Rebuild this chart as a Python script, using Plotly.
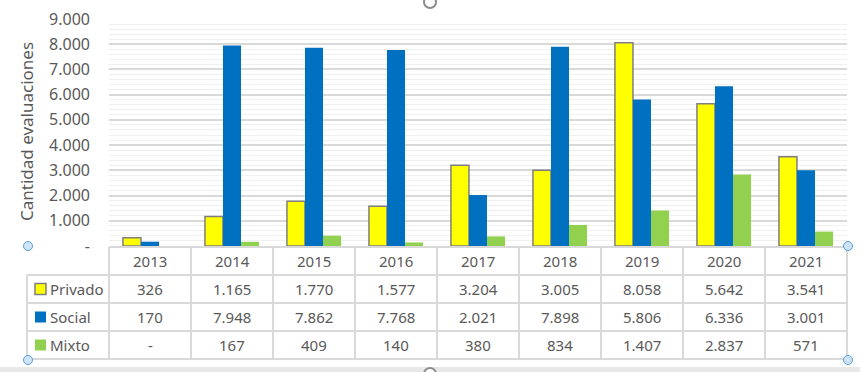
import plotly.graph_objects as go

years = ["2013", "2014", "2015", "2016", "2017", "2018", "2019", "2020", "2021"]
privado = [326, 1165, 1770, 1577, 3204, 3005, 8058, 5642, 3541]
social = [170, 7948, 7862, 7768, 2021, 7898, 5806, 6336, 3001]
mixto = [0, 167, 409, 140, 380, 834, 1407, 2837, 571]
series_names = ["Privado", "Social", "Mixto"]
colors = ["#FFFF00", "#0070C0", "#92D050"]
ytick_vals = [0, 1000, 2000, 3000, 4000, 5000, 6000, 7000, 8000, 9000]

def fmt(v):
    return "-" if v == 0 else f"{v:,}".replace(",", ".")

W, H = 860, 372
L, R, T, B = 109, 847, 19, 246

def px_x(px):
    return px / W

def px_y(py):
    return (H - py) / H

FONT = "Noto Sans"
TXT = "#595959"
GRID = "#d9d9d9"

fig = go.Figure()
fig.add_bar(x=years, y=privado, name="Privado", marker=dict(color=colors[0], line=dict(color="#7f7f7f", width=1.5)))
fig.add_bar(x=years, y=social, name="Social", marker=dict(color=colors[1], line=dict(width=0)))
fig.add_bar(x=years, y=mixto, name="Mixto", marker=dict(color=colors[2], line=dict(width=0)))

shapes = []
annotations = []

# table geometry (pixels)
row_lines = [247, 275, 303, 331, 359]
col_w = (R - L) / len(years)
label_left = L - col_w
line_style = dict(color=GRID, width=2)
shapes.append(dict(type="line", xref="paper", yref="paper", x0=px_x(L), x1=px_x(R), y0=px_y(row_lines[0]), y1=px_y(row_lines[0]), line=line_style))
for py in row_lines[1:]:
    shapes.append(dict(type="line", xref="paper", yref="paper", x0=px_x(label_left), x1=px_x(R), y0=px_y(py), y1=px_y(py), line=line_style))
shapes.append(dict(type="line", xref="paper", yref="paper", x0=px_x(label_left), x1=px_x(label_left), y0=px_y(row_lines[1]), y1=px_y(row_lines[-1]), line=line_style))
for i in range(len(years) + 1):
    xx = px_x(L + i * col_w)
    shapes.append(dict(type="line", xref="paper", yref="paper", x0=xx, x1=xx, y0=px_y(row_lines[0]), y1=px_y(row_lines[-1]), line=line_style))

tfont = dict(family=FONT, size=15, color=TXT)
for i, yr in enumerate(years):
    annotations.append(dict(x=px_x(L + (i + 0.5) * col_w), xref="paper", yref="paper", y=px_y(261), text=yr, showarrow=False, font=tfont, xanchor="center", yanchor="middle"))

rows = [privado, social, mixto]
row_centers = [289, 317, 345]
for r, (vals, name, col, yc) in enumerate(zip(rows, series_names, colors, row_centers)):
    for i, v in enumerate(vals):
        annotations.append(dict(x=px_x(L + (i + 0.5) * col_w), xref="paper", yref="paper", y=px_y(yc), text=fmt(v), showarrow=False, font=tfont, xanchor="center", yanchor="middle"))
    shapes.append(dict(type="rect", xref="paper", yref="paper", x0=px_x(35), x1=px_x(46), y0=px_y(yc - 5.5), y1=px_y(yc + 5.5),
                       fillcolor=col, line=dict(color="#7f7f7f" if r == 0 else col, width=1.5 if r == 0 else 0)))
    annotations.append(dict(x=px_x(48), xref="paper", yref="paper", y=px_y(yc), text=name, showarrow=False, font=tfont, xanchor="left", yanchor="middle"))

annotations.append(dict(x=px_x(26), xref="paper", yref="paper", y=px_y(132), text="Cantidad evaluaciones", textangle=-90, showarrow=False,
                        font=dict(family=FONT, size=17, color=TXT), xanchor="center", yanchor="middle"))

# selection handles
for hx, hy in [(28, 246), (28, 360), (848, 246), (848, 360)]:
    shapes.append(dict(type="circle", xref="paper", yref="paper", x0=px_x(hx - 4.5), x1=px_x(hx + 4.5), y0=px_y(hy - 4.5), y1=px_y(hy + 4.5),
                       fillcolor="#cfe5f7", line=dict(color="#5b9bd5", width=1)))
for hx, hy in [(430, 2), (430, 374)]:
    shapes.append(dict(type="circle", xref="paper", yref="paper", x0=px_x(hx - 6), x1=px_x(hx + 6), y0=px_y(hy - 6), y1=px_y(hy + 6),
                       fillcolor="white", line=dict(color="#8c8c8c", width=2)))
shapes.append(dict(type="rect", xref="paper", yref="paper", x0=0, x1=1, y0=px_y(372), y1=px_y(367), fillcolor="#e8e8e8", line=dict(width=0), layer="below"))

fig.update_layout(
    width=W, height=H,
    margin=dict(l=0, r=0, t=0, b=0, pad=0),
    paper_bgcolor="white", plot_bgcolor="white",
    barmode="group", bargap=0.34, bargroupgap=0,
    showlegend=False,
    shapes=shapes, annotations=annotations,
    xaxis=dict(domain=[px_x(L), px_x(R)], type="category", range=[-0.5, 8.5], showticklabels=False, showgrid=False,
               zeroline=False, showline=False, ticks="", automargin=False),
    yaxis=dict(domain=[px_y(B), px_y(T)], range=[0, 9000], tickvals=ytick_vals, ticktext=[fmt(v) for v in ytick_vals],
               showgrid=True, gridcolor=GRID, gridwidth=1.5, zeroline=False, showline=False, ticks="",
               ticklabelstandoff=18, automargin=False,
               tickfont=dict(family=FONT, size=16, color=TXT),
               minor=dict(dtick=200, showgrid=True, gridcolor="#f0f0f0", gridwidth=1)),
)

fig.write_html("out.html", config={"displayModeBar": False},
               post_script="document.body.style.margin='0';document.body.style.overflow='hidden';")
